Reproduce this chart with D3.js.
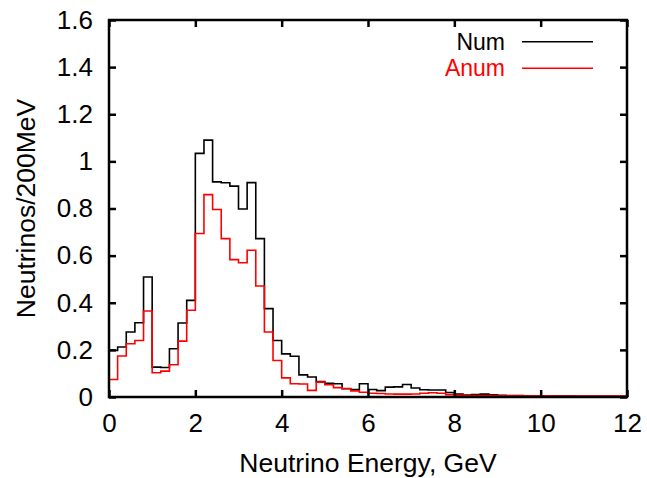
<!DOCTYPE html>
<html>
<head>
<meta charset="utf-8">
<script src="https://cdn.jsdelivr.net/npm/d3@7"></script>
<style>
  body { margin: 0; background: #fff; }
  svg { display: block; font-family: "Liberation Sans", Arial, Helvetica, sans-serif; }
</style>
</head>
<body>
<div id="chart"></div>
<script>
// bin width 0.2 GeV, 60 bins from 0 to 12
const binWidth = 0.2;
const binStarts = d3.range(60).map(i => +(i * binWidth).toFixed(1));

const numValues = [
  0.198, 0.212, 0.276, 0.315, 0.509, 0.127, 0.125, 0.205, 0.314, 0.410,
  1.034, 1.090, 0.913, 0.909, 0.895, 0.798, 0.910, 0.672, 0.375, 0.240,
  0.183, 0.173, 0.094, 0.085, 0.066, 0.058, 0.056, 0.035, 0.032, 0.056,
  0.032, 0.027, 0.042, 0.043, 0.053, 0.038, 0.031, 0.030, 0.030, 0.019,
  0.012, 0.008, 0.010, 0.012, 0.009, 0.007, 0.006, 0.006, 0.005, 0.005,
  0.004, 0.004, 0.004, 0.004, 0.003, 0.003, 0.003, 0.003, 0.003, 0.003
];

const anumValues = [
  0.074, 0.174, 0.226, 0.240, 0.365, 0.103, 0.110, 0.137, 0.237, 0.368,
  0.694, 0.859, 0.796, 0.672, 0.583, 0.570, 0.623, 0.471, 0.276, 0.155,
  0.081, 0.056, 0.055, 0.028, 0.063, 0.052, 0.040, 0.036, 0.026, 0.020,
  0.016, 0.015, 0.013, 0.012, 0.012, 0.013, 0.016, 0.018, 0.016, 0.010,
  0.008, 0.006, 0.006, 0.006, 0.006, 0.005, 0.005, 0.005, 0.005, 0.005,
  0.005, 0.004, 0.004, 0.004, 0.004, 0.004, 0.004, 0.004, 0.004, 0.004
];

const xTicks = [0, 2, 4, 6, 8, 10, 12];
const yTicks = [0, 0.2, 0.4, 0.6, 0.8, 1, 1.2, 1.4, 1.6];

const series = [
  { name: "Num", values: numValues, color: "#000000" },
  { name: "Anum", values: anumValues, color: "#ff0000" }
];

// Set dimensions
const margin = { top: 20, right: 20, bottom: 81, left: 109 };
const width = 647 - margin.left - margin.right;
const height = 478 - margin.top - margin.bottom;
const fontSize = 26;

const svg = d3.select("#chart")
  .append("svg")
  .attr("width", width + margin.left + margin.right)
  .attr("height", height + margin.top + margin.bottom)
  .append("g")
  .attr("transform", `translate(${margin.left},${margin.top})`);

const xScale = d3.scaleLinear().domain([0, 12]).range([0, width]);
const yScale = d3.scaleLinear().domain([0, 1.6]).range([height, 0]);

// histogram steps (start and end on the baseline)
function stepPoints(values) {
  const pts = [[0, 0]];
  values.forEach((v, i) => {
    pts.push([binStarts[i], v]);
    pts.push([binStarts[i] + binWidth, v]);
  });
  pts.push([binStarts[values.length - 1] + binWidth, 0]);
  return pts;
}

const line = d3.line()
  .x(d => xScale(d[0]))
  .y(d => yScale(d[1]));

series.forEach(s => {
  svg.append("path")
    .datum(stepPoints(s.values))
    .attr("fill", "none")
    .attr("stroke", s.color)
    .attr("stroke-width", 1.6)
    .attr("d", line);
});

// axes, ticks pointing inward, on all four sides
const tickLen = 7;
const fmtY = d => d === 0 || d === 1 ? d3.format("d")(d) : d3.format(".1f")(d);

const xAxis = svg.append("g")
  .attr("transform", `translate(0,${height})`)
  .call(d3.axisBottom(xScale).tickValues(xTicks).tickSize(-tickLen).tickPadding(17).tickFormat(d3.format("d")));
const xTop = svg.append("g")
  .call(d3.axisTop(xScale).tickValues(xTicks).tickSize(-tickLen).tickFormat(""));
const yAxis = svg.append("g")
  .call(d3.axisLeft(yScale).tickValues(yTicks).tickSize(-tickLen).tickPadding(16).tickFormat(fmtY));
const yRight = svg.append("g")
  .attr("transform", `translate(${width},0)`)
  .call(d3.axisRight(yScale).tickValues(yTicks).tickSize(-tickLen).tickFormat(""));

[xAxis, xTop, yAxis, yRight].forEach(g => {
  g.select(".domain").remove();
  g.selectAll(".tick line").attr("stroke", "#000").attr("stroke-width", 2.5);
  g.selectAll("text").attr("font-size", fontSize).attr("fill", "#000")
    .style("font-family", "'Liberation Sans', Arial, sans-serif");
});

// frame
svg.append("rect")
  .attr("x", 0).attr("y", 0)
  .attr("width", width).attr("height", height)
  .attr("fill", "none")
  .attr("stroke", "#000")
  .attr("stroke-width", 2.5);

// axis titles
svg.append("text")
  .attr("x", width / 2)
  .attr("y", height + 75)
  .attr("text-anchor", "middle")
  .attr("font-size", 26.5)
  .text("Neutrino Energy, GeV");

svg.append("text")
  .attr("transform", `translate(${-74},${height / 2}) rotate(-90)`)
  .attr("text-anchor", "middle")
  .attr("font-size", 26.5)
  .text("Neutrinos/200MeV");

// legend (slightly smaller text so the two rows don't collide)
const legend = svg.append("g");
series.forEach((s, i) => {
  const y = 21.7 + i * 26.6;
  legend.append("text")
    .attr("x", 396)
    .attr("y", y + 8)
    .attr("text-anchor", "end")
    .attr("font-size", 23)
    .attr("fill", s.color)
    .text(s.name);
  legend.append("line")
    .attr("x1", 413).attr("x2", 484)
    .attr("y1", y).attr("y2", y)
    .attr("stroke", s.color)
    .attr("stroke-width", 1.6);
});
</script>
</body>
</html>
